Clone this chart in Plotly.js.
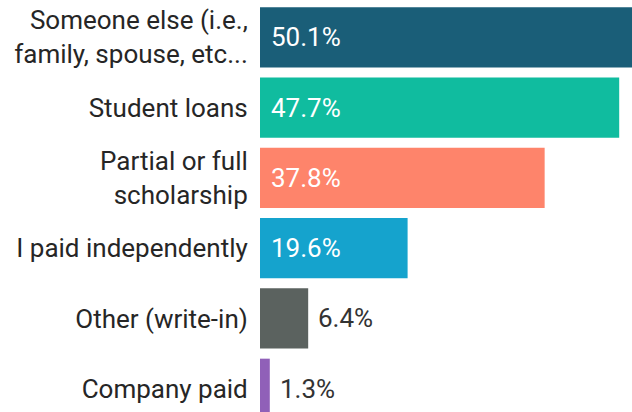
<!DOCTYPE html>
<html>
<head>
<meta charset="utf-8">
<script src="https://cdn.plot.ly/plotly-3.0.1.min.js"></script>
<style>html,body{margin:0;padding:0;background:#fff;}#chart{width:632px;height:412px;}</style>
</head>
<body>
<div id="chart"></div>
<script>
const categories = [
  "Someone else (i.e.,<br>family, spouse, etc...",
  "Student loans",
  "Partial or full<br>scholarship",
  "I paid independently",
  "Other (write-in)",
  "Company paid"
];
const values = [50.1, 47.7, 37.8, 19.6, 6.4, 1.3];
const valueLabels = ["50.1%", "47.7%", "37.8%", "19.6%", "6.4%", "1.3%"];
const barColors = ["#1a5e78", "#10bc9f", "#fe846b", "#15a3cd", "#5b625f", "#9060b8"];

const xMax = 49.4;
const plotWidthPx = 632 - 260;
const fontFam = "Roboto, 'Open Sans', sans-serif";

const annotations = values.map((v, i) => {
  const barPx = v / xMax * plotWidthPx;
  const inside = barPx > 90;
  return {
    x: inside ? 0 : v,
    y: categories[i],
    xref: "x", yref: "y",
    text: valueLabels[i],
    showarrow: false,
    xanchor: "left",
    yanchor: "middle",
    xshift: inside ? 9 : 8,
    font: {family: fontFam, size: 26, color: inside ? "#ffffff" : "#333333"}
  };
});

const trace = {
  type: "bar",
  orientation: "h",
  x: values,
  y: categories,
  marker: {color: barColors, line: {width: 0}},
  hoverinfo: "none"
};

const layout = {
  width: 632,
  height: 412,
  margin: {l: 260, r: 0, t: 0, b: 0, pad: 0},
  paper_bgcolor: "#ffffff",
  plot_bgcolor: "#ffffff",
  bargap: 0.143,
  showlegend: false,
  font: {family: fontFam, size: 26, color: "#333333"},
  xaxis: {
    range: [0, xMax],
    showgrid: false, zeroline: false, showline: false,
    showticklabels: false, ticks: ""
  },
  yaxis: {
    type: "category",
    categoryorder: "array",
    categoryarray: categories,
    range: [5.33, -0.53],
    showgrid: false, zeroline: false, showline: false,
    ticks: "outside", ticklen: 6, tickcolor: "rgba(0,0,0,0)",
    tickfont: {family: fontFam, size: 26, color: "#262626"}
  },
  annotations: annotations
};

Plotly.newPlot("chart", [trace], layout, {staticPlot: true, displayModeBar: false});
</script>
</body>
</html>
